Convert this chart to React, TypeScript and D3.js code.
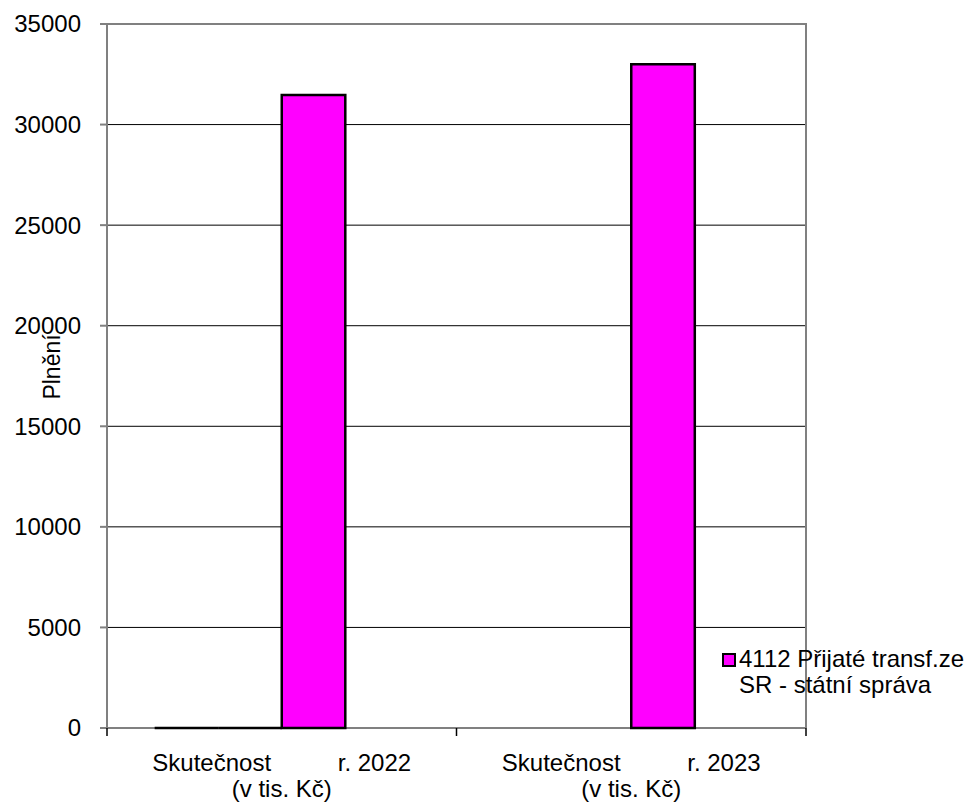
import { useEffect, useRef } from "react";
import * as d3 from "d3";

const categories = ["Skutečnost          r. 2022", "Skutečnost          r. 2023"];
const categorySub = ["(v tis. Kč)", "(v tis. Kč)"];
const seriesNames = ["s1", "s2", "4112 Přijaté transf.ze SR - státní správa", "s4"];
const seriesA: (number | null)[] = [0, null];
const seriesB: (number | null)[] = [0, null];
const seriesTransfers: (number | null)[] = [31470, 33000];
const seriesD: (number | null)[] = [null, null];
const yTicks = [0, 5000, 10000, 15000, 20000, 25000, 30000, 35000];
const legendLines = ["4112 Přijaté transf.ze", "SR - státní správa"];

const seriesValues = [seriesA, seriesB, seriesTransfers, seriesD];
const seriesFill = ["#ffffff", "#ffffff", "#ff00ff", "#ffffff"];

export default function App() {
  const svgRef = useRef<SVGSVGElement | null>(null);

  useEffect(() => {
    document.body.style.margin = "0";
    if (!svgRef.current) return;
    const svg = d3.select(svgRef.current);
    svg.selectAll("*").remove();

    const left = 107;
    const right = 806;
    const top = 24;
    const bottom = 728;
    const font = "Arial, 'Liberation Sans', sans-serif";

    const y = d3.scaleLinear().domain([0, 35000]).range([bottom, top]);
    const x = d3.scaleBand<string>().domain(categories).range([left, right]);
    const cat = x.bandwidth();
    const barW = cat / (seriesNames.length + 1.5);
    const xs = d3
      .scaleBand<string>()
      .domain(seriesNames)
      .range([barW * 0.75, cat - barW * 0.75]);

    // gridlines
    svg
      .append("g")
      .selectAll("line")
      .data(yTicks.filter((t) => t > 0 && t < 35000))
      .join("line")
      .attr("x1", left)
      .attr("x2", right)
      .attr("y1", (d) => y(d))
      .attr("y2", (d) => y(d))
      .attr("stroke", "#000")
      .attr("stroke-width", 1);

    // plot border top/right
    svg
      .append("path")
      .attr("d", `M${left},${top}H${right}V${bottom}`)
      .attr("fill", "none")
      .attr("stroke", "#808080")
      .attr("stroke-width", 2);

    // y axis
    svg
      .append("line")
      .attr("x1", left)
      .attr("x2", left)
      .attr("y1", top)
      .attr("y2", bottom)
      .attr("stroke", "#808080")
      .attr("stroke-width", 2);
    svg
      .append("g")
      .selectAll("line")
      .data(yTicks)
      .join("line")
      .attr("x1", left - 7)
      .attr("x2", left)
      .attr("y1", (d) => y(d))
      .attr("y2", (d) => y(d))
      .attr("stroke", "#808080")
      .attr("stroke-width", 2);
    svg
      .append("g")
      .selectAll("text")
      .data(yTicks)
      .join("text")
      .attr("x", left - 26)
      .attr("y", (d) => y(d))
      .attr("dy", "0.35em")
      .attr("text-anchor", "end")
      .attr("font-family", font)
      .attr("font-size", 24)
      .text((d) => String(d));

    // x axis
    svg
      .append("line")
      .attr("x1", left)
      .attr("x2", right)
      .attr("y1", bottom)
      .attr("y2", bottom)
      .attr("stroke", "#808080")
      .attr("stroke-width", 2);
    const bounds = [left, ...categories.map((c) => x(c)! + cat)];
    svg
      .append("g")
      .selectAll("line")
      .data(bounds)
      .join("line")
      .attr("x1", (d) => d)
      .attr("x2", (d) => d)
      .attr("y1", bottom)
      .attr("y2", bottom + 8)
      .attr("stroke", "#000")
      .attr("stroke-width", 1.5);

    // bars (drawn as paths so zero-height bars still show their outline)
    seriesValues.forEach((vals, si) => {
      svg
        .append("g")
        .selectAll("path")
        .data(vals.map((v, i) => ({ v, c: categories[i] })).filter((d) => d.v !== null))
        .join("path")
        .attr("d", (d) => {
          const x0 = x(d.c)! + xs(seriesNames[si])!;
          const x1 = x0 + xs.bandwidth();
          const yt = y(d.v as number);
          return `M${x0},${bottom}V${yt}H${x1}V${bottom}Z`;
        })
        .attr("fill", seriesFill[si])
        .attr("stroke", "#000")
        .attr("stroke-width", 2.5);
    });

    const labels = svg.append("g");
    categories.forEach((c, i) => {
      const cx = x(c)! + cat / 2;
      labels
        .append("text")
        .attr("x", cx)
        .attr("y", 771)
        .attr("text-anchor", "middle")
        .attr("font-family", font)
        .attr("font-size", 24)
        .style("white-space", "pre")
        .text(c);
      labels
        .append("text")
        .attr("x", cx)
        .attr("y", 797)
        .attr("text-anchor", "middle")
        .attr("font-family", font)
        .attr("font-size", 24)
        .text(categorySub[i]);
    });

    // y title
    svg
      .append("text")
      .attr("transform", "translate(60,367) rotate(-90)")
      .attr("text-anchor", "middle")
      .attr("font-family", font)
      .attr("font-size", 23)
      .text("Plnění");

    // legend
    const lg = svg.append("g");
    lg.append("rect")
      .attr("x", 723)
      .attr("y", 654)
      .attr("width", 12)
      .attr("height", 12)
      .attr("fill", seriesFill[2])
      .attr("stroke", "#000")
      .attr("stroke-width", 2);
    legendLines.forEach((t, i) => {
      lg.append("text")
        .attr("x", 739)
        .attr("y", 667 + i * 26)
        .attr("font-family", font)
        .attr("font-size", 24)
        .text(t);
    });
  }, []);

  return <svg ref={svgRef} width={975} height={805} style={{ display: "block", background: "#fff" }} />;
}
